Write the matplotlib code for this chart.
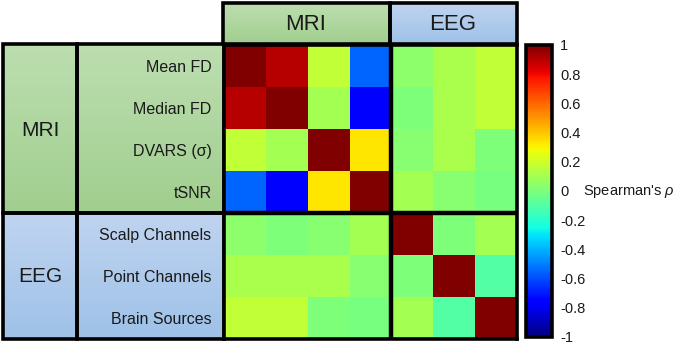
import numpy as np
import matplotlib
matplotlib.use("Agg")
import matplotlib.pyplot as plt
from matplotlib.patches import Rectangle

plt.rcParams["font.family"] = ["Liberation Sans", "DejaVu Sans"]
plt.rcParams["mathtext.fontset"] = "custom"
plt.rcParams["mathtext.it"] = "Liberation Sans:italic"

# measures (rows and columns share the same order)
measures = ["Mean FD", "Median FD", "DVARS (σ)", "tSNR",
            "Scalp Channels", "Point Channels", "Brain Sources"]
groups = ["MRI", "EEG"]
group_sizes = [4, 3]

# Spearman correlations
rho_mean_fd = [1.00, 0.90, 0.17, -0.55, 0.04, 0.11, 0.17]
rho_median_fd = [0.90, 1.00, 0.10, -0.76, 0.00, 0.11, 0.17]
rho_dvars = [0.17, 0.10, 1.00, 0.33, 0.03, 0.11, 0.00]
rho_tsnr = [-0.55, -0.76, 0.33, 1.00, 0.10, 0.03, -0.01]
rho_scalp = [0.04, 0.00, 0.03, 0.10, 1.00, 0.00, 0.10]
rho_point = [0.11, 0.11, 0.11, 0.03, 0.00, 1.00, -0.10]
rho_brain = [0.17, 0.17, 0.00, -0.01, 0.10, -0.10, 1.00]

cbar_ticks = [1, 0.8, 0.6, 0.4, 0.2, 0, -0.2, -0.4, -0.6, -0.8, -1]
cbar_label = "Spearman's $\\rho$"

data = np.array([rho_mean_fd, rho_median_fd, rho_dvars, rho_tsnr,
                 rho_scalp, rho_point, rho_brain])

W, H = 675, 346
fig = plt.figure(figsize=(W / 100, H / 100), dpi=100)


def px_axes(x0, y0, x1, y1, **kw):
    return fig.add_axes([x0 / W, 1 - y1 / H, (x1 - x0) / W, (y1 - y0) / H], **kw)


# background decoration layer in pixel coordinates
bg = px_axes(0, 0, W, H)
bg.set_axis_off()

green = ((0.74, 0.87, 0.69), (0.63, 0.81, 0.56))
blue = ((0.75, 0.83, 0.94), (0.62, 0.76, 0.91))


def gradient_box(x0, y0, x1, y1, cols):
    t = np.linspace(0, 1, 64)[:, None, None]
    c0, c1 = np.array(cols[0]), np.array(cols[1])
    img = c0 * (1 - t) + c1 * t
    bg.imshow(img, extent=(x0, x1, y1, y0), aspect="auto", interpolation="bilinear")
    bg.add_patch(Rectangle((x0, y0), x1 - x0, y1 - y0, fill=False,
                           ec="black", lw=2.6, zorder=5))


# header boxes
gradient_box(223, 3, 390, 44, green)
gradient_box(390, 3, 517, 44, blue)
bg.text(306, 24, groups[0], ha="center", va="center", fontsize=16, color="#1a1a1a")
bg.text(453, 24, groups[1], ha="center", va="center", fontsize=16, color="#1a1a1a")

# left boxes
gradient_box(3, 44, 77, 213, green)
gradient_box(77, 44, 224, 213, green)
gradient_box(3, 213, 77, 339, blue)
gradient_box(77, 213, 224, 339, blue)
bg.text(40, 130, groups[0], ha="center", va="center", fontsize=15, color="#1a1a1a")
bg.text(40, 277, groups[1], ha="center", va="center", fontsize=15, color="#1a1a1a")

bg.set_xlim(0, W)
bg.set_ylim(H, 0)

# heatmap
ax = px_axes(224, 45, 517, 339)
n = len(measures)
mesh = ax.pcolormesh(np.arange(n + 1), np.arange(n + 1), data,
                     cmap="jet", vmin=-1, vmax=1)
ax.set_xlim(0, n)
ax.set_ylim(n, 0)
ax.axhline(group_sizes[0], color="black", lw=3.2)
ax.axvline(group_sizes[0], color="black", lw=3.2)
for s in ax.spines.values():
    s.set_linewidth(2.6)
ax.set_xticks([])
ax.set_yticks(np.arange(n) + 0.5)
ax.set_yticklabels(measures, fontsize=11.5, color="#1a1a1a")
ax.tick_params(axis="y", length=0, pad=9)

# colorbar
cax = px_axes(526, 45, 552, 337)
cbar = fig.colorbar(mesh, cax=cax, ticks=cbar_ticks)
cbar.ax.set_yticklabels([f"{t:g}" for t in cbar_ticks], fontsize=10.5, color="#1a1a1a")
cbar.ax.tick_params(length=0, pad=6)
cbar.outline.set_linewidth(2.6)
cax.text(2.2, 0.5, cbar_label, transform=cax.transAxes, ha="left", va="center",
         fontsize=10.5, color="#1a1a1a")

fig.savefig("out.png", dpi=100)
